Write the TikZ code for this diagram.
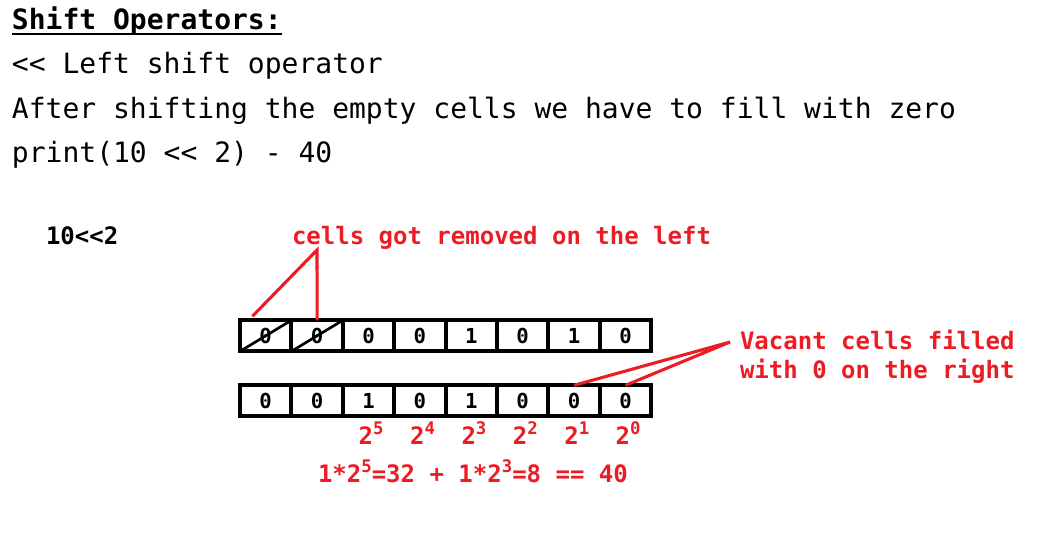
\documentclass[tikz,border=0pt]{standalone}
\usepackage{fontspec}
\setmonofont{DejaVu Sans Mono}
\usepackage{tikz}
\usetikzlibrary{positioning}
\definecolor{markred}{RGB}{237,28,36}
\newcommand{\pw}[1]{\raisebox{0.4em}{\fontsize{13}{13}\selectfont#1}}

\begin{document}
\begin{tikzpicture}[
    x=0.75pt, y=-0.75pt,
    every node/.style={inner sep=0pt, outer sep=0pt},
    textline/.style={anchor=base west, font=\ttfamily\fontsize{21}{25}\selectfont},
    heading/.style={textline, font=\ttfamily\bfseries\fontsize{21}{25}\selectfont},
    tag/.style={anchor=base west, font=\ttfamily\bfseries\fontsize{18}{22}\selectfont},
    cell/.style={rectangle, draw, line width=3pt, minimum width=38.55pt, minimum height=23.25pt, font=\ttfamily\bfseries\fontsize{15.5}{17}\selectfont},
    note/.style={anchor=base west, align=left, text=markred, font=\ttfamily\bfseries\fontsize{18}{21.75}\selectfont},
    pow/.style={anchor=base, text=markred, font=\ttfamily\bfseries\fontsize{18}{22}\selectfont},
    strike/.style={line width=2pt},
    pointer/.style={draw=markred, line width=2.3pt}
]
\useasboundingbox[fill=white] (0,0) rectangle (1038,536);

% Text
\node[heading] (title) at (12,29) {Shift Operators:};
\draw[line width=1.6pt] ([yshift=-3.5pt]title.base west) -- ([yshift=-3.5pt]title.base east);
\node[textline] (op) at (12,73) {<< Left shift operator};
\node[textline] (rule) at (12,118) {After shifting the empty cells we have to fill with zero};
\node[textline] (print) at (12,162) {print(10 << 2) - 40};
\node[tag] (expr) at (46,244) {10<<2};

% Notes
\node[note] (removed) at (292,244) {cells got removed on the left};
\node[note] (vacant) at (740,378) {Vacant cells filled\\with 0 on the right};

% Cells before shift
\node[cell] (t1) at (265.7,335.8) {0};
\node[cell, right=0pt of t1] (t2) {0};
\node[cell, right=0pt of t2] (t3) {0};
\node[cell, right=0pt of t3] (t4) {0};
\node[cell, right=0pt of t4] (t5) {1};
\node[cell, right=0pt of t5] (t6) {0};
\node[cell, right=0pt of t6] (t7) {1};
\node[cell, right=0pt of t7] (t8) {0};

% Cells after shift
\node[cell] (b1) at (265.7,400.8) {0};
\node[cell, right=0pt of b1] (b2) {0};
\node[cell, right=0pt of b2] (b3) {1};
\node[cell, right=0pt of b3] (b4) {0};
\node[cell, right=0pt of b4] (b5) {1};
\node[cell, right=0pt of b5] (b6) {0};
\node[cell, right=0pt of b6] (b7) {0};
\node[cell, right=0pt of b7] (b8) {0};

% Powers
\foreach \n/\s in {3/5, 4/4, 5/3, 6/2, 7/1, 8/0}
    \node[pow] (p\n) at ([xshift=2pt, yshift=-20.8pt]b\n.south) {2\pw{\s}};
\node[note] (sum) at (318,482) {1*2\pw{5}=32 + 1*2\pw{3}=8 == 40};

% Strikes
\draw[strike] (t1.south west) -- (t1.north east);
\draw[strike] (t2.south west) -- (t2.north east);

% Pointers
\coordinate (lt) at (317,250);
\coordinate (rt) at (730,342);
\draw[pointer] ([shift={(-10pt,3pt)}]t1.north) -- (lt) -- (t2.north);
\draw[pointer] (b7.north) -- (rt) -- (b8.north);

\end{tikzpicture}
\end{document}
